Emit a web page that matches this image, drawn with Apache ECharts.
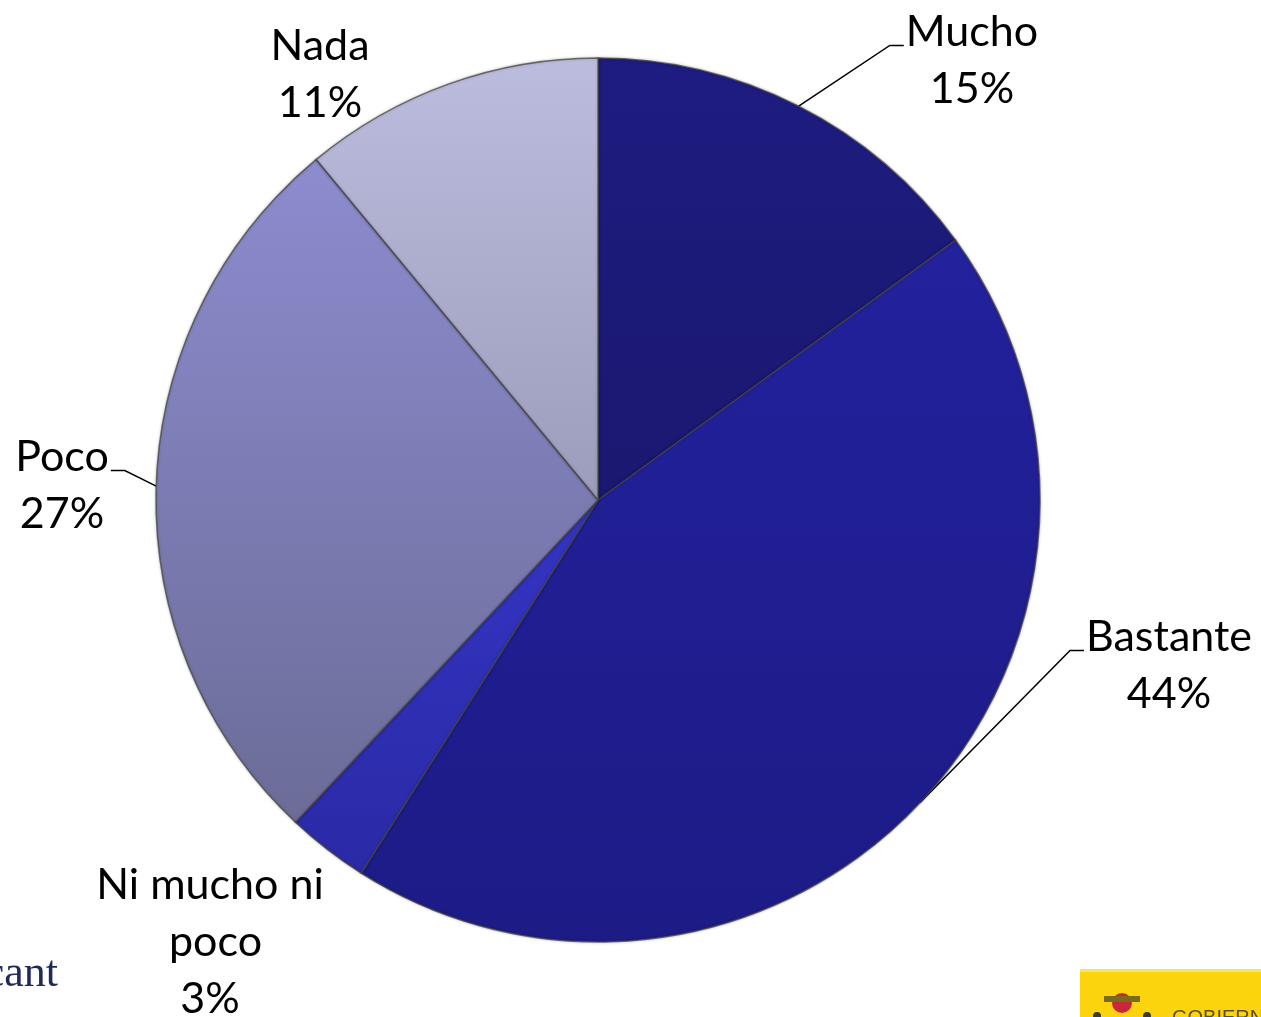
<!DOCTYPE html>
<html>
<head>
<meta charset="utf-8">
<script src="https://cdn.jsdelivr.net/npm/echarts@6/dist/echarts.min.js"></script>
<style>
html,body{margin:0;padding:0;background:#fff;}
#chart{width:1261px;height:1017px;}
</style>
</head>
<body>
<div id="chart"></div>
<script>
// ---- data ----
const categories = ['Mucho', 'Bastante', 'Ni mucho ni poco', 'Poco', 'Nada'];
const values = [15, 44, 3, 27, 11];

// ---- styling / layout (not data) ----
const sliceGradients = [
  ['#1e1c80', '#1a1870'],
  ['#23219c', '#1d1b86'],
  ['#3434c4', '#2a2aa6'],
  ['#8c8ccf', '#6c6c98'],
  ['#bcbcde', '#9c9cbc']
];
const labelCenters = [[972, 61], [1169, 666], [210, 942], [62, 486], [320, 75]];
const hasGuide = [true, true, false, true, false];
const guideSide = [1, 1, 0, -1, 0]; // 1: label right of line, -1: label left of line
const FONT_SIZE = 43;
const LINE_H = 57;

const seriesData = categories.map((name, i) => {
  const item = {
    name: name,
    value: values[i],
    itemStyle: {
      color: {
        type: 'linear', x: 0, y: 0, x2: 0, y2: 1,
        colorStops: [
          { offset: 0, color: sliceGradients[i][0] },
          { offset: 1, color: sliceGradients[i][1] }
        ]
      }
    }
  };
  if (!hasGuide[i]) item.labelLine = { show: false };
  if (name === 'Ni mucho ni poco') item.label = { width: 235, overflow: 'break' };
  return item;
});

const chart = echarts.init(document.getElementById('chart'), null, { renderer: 'canvas' });

chart.setOption({
  backgroundColor: '#ffffff',
  animation: false,
  graphic: [
    { type: 'text', style: { x: 58, y: 996, text: 'icant', align: 'right', verticalAlign: 'bottom', font: '44px "Liberation Serif", serif', fill: '#1f2a5a' } },
    { type: 'rect', shape: { x: 1080, y: 969, width: 181, height: 48 }, style: { fill: '#fbd40e' } },
    { type: 'rect', shape: { x: 1080, y: 969, width: 181, height: 3 }, style: { fill: '#f6e36a' } },
    { type: 'circle', shape: { cx: 1122, cy: 1003, r: 10 }, style: { fill: '#c9283a' } },
    { type: 'rect', shape: { x: 1104, y: 996, width: 36, height: 6 }, style: { fill: '#7a6a1a' } },
    { type: 'circle', shape: { cx: 1097, cy: 1016, r: 4 }, style: { fill: '#3a3a3a' } },
    { type: 'circle', shape: { cx: 1147, cy: 1016, r: 4 }, style: { fill: '#3a3a3a' } },
    { type: 'text', left: 1172, top: 1008, style: { text: 'GOBIERNO', font: '20px "Liberation Sans", sans-serif', fill: '#5a5030' } }
  ],
  series: [{
    type: 'pie',
    center: [598, 500],
    radius: 442,
    startAngle: 90,
    clockwise: true,
    avoidLabelOverlap: false,
    percentPrecision: 0,
    data: seriesData,
    itemStyle: {
      borderColor: 'rgba(70,70,70,0.75)',
      borderWidth: 1.5,
      shadowBlur: 3,
      shadowColor: 'rgba(0,0,0,0.25)'
    },
    label: {
      show: true,
      position: 'outside',
      formatter: '{b}\n{d}%',
      fontFamily: 'Lato',
      fontSize: FONT_SIZE,
      lineHeight: LINE_H,
      color: '#000000',
      align: 'center'
    },
    labelLine: {
      show: true,
      length: 20,
      length2: 10,
      lineStyle: { color: '#000000', width: 1.5 }
    },
    labelLayout: function (params) {
      const i = params.dataIndex;
      const c = labelCenters[i];
      const out = { x: c[0], y: c[1], align: 'center', verticalAlign: 'middle' };
      if (hasGuide[i] && params.labelLinePoints) {
        const w = params.labelRect.width;
        const h = params.labelRect.height;
        const p0 = params.labelLinePoints[0];
        const endY = c[1] - h / 2 + LINE_H / 2 + 13;
        let endX, elbowX;
        if (guideSide[i] > 0) {
          endX = c[0] - w / 2 - 2;
          elbowX = endX - 14;
        } else {
          endX = c[0] + w / 2 + 2;
          elbowX = endX + 14;
        }
        out.labelLinePoints = [p0, [elbowX, endY], [endX, endY]];
      }
      return out;
    }
  }]
});
</script>
</body>
</html>
